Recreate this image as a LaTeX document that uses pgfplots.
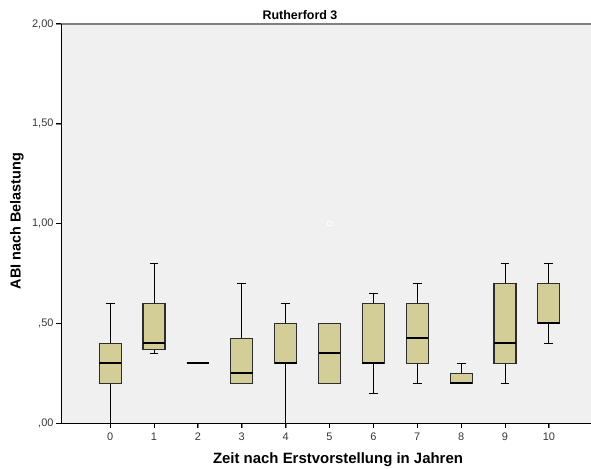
\documentclass[border=0pt]{standalone}
\usepackage{pgfplots}
\pgfplotsset{compat=1.18}
\usepgfplotslibrary{statistics}
\usepackage{fontspec}
\setmainfont{Liberation Sans}
\definecolor{bg}{RGB}{240,240,240}
\definecolor{boxfill}{RGB}{211,206,152}
\definecolor{boxedge}{RGB}{45,45,45}
\definecolor{ticktext}{RGB}{55,55,55}
\definecolor{topline}{RGB}{128,128,128}
\begin{document}
\begin{tikzpicture}
\begin{axis}[
  at={(0,0)}, anchor=south west,
  scale only axis, width=530bp, height=399bp,
  xmin=-1.12, xmax=10.96, ymin=0, ymax=2,
  axis line style={draw=none},
  axis background/.style={fill=bg},
  xtick={0,1,2,3,4,5,6,7,8,9,10},
  xticklabels={0,1,2,3,4,5,6,7,8,9,10},
  ytick={0,0.5,1,1.5,2},
  yticklabels={{,00},{,50},{1,00},{1,50},{2,00}},
  tick pos=left, tick align=outside,
  major tick length=5bp,
  ticklabel style={font=\fontsize{11}{13}\selectfont, text=ticktext},
  xticklabel style={yshift=-1bp},
  yticklabel style={xshift=1bp},
  boxplot/draw direction=y,
  boxplot/box extend=0.5,
  boxplot/whisker extend=0.2,
  boxplot/every box/.style={fill=boxfill, draw=boxedge, line width=1.1bp},
  boxplot/every whisker/.style={black, line width=0.8bp},
  boxplot/every median/.style={black, line width=2.4bp},
  clip=false,
]
\draw[topline, line width=1.2bp] (rel axis cs:0,1) -- (rel axis cs:1,1);
\draw[black, line width=0.9bp] (rel axis cs:0,1) -- (rel axis cs:0,0) -- (rel axis cs:1,0);
\pgfplotsinvokeforeach{0,1,2,3,4,5,6,7,8,9,10}{
  \draw[black, line width=1bp] (axis cs:#1,0) -- ([yshift=-5bp]axis cs:#1,0);
}
\pgfplotsinvokeforeach{0,0.5,1,1.5,2}{
  \draw[black, line width=1bp] (axis cs:-1.12,#1) -- ([xshift=-5bp]axis cs:-1.12,#1);
}
\addplot[boxplot prepared={draw position=0, lower whisker=0.00, lower quartile=0.20, median=0.30, upper quartile=0.40, upper whisker=0.60}] coordinates {};
\addplot[boxplot prepared={draw position=1, lower whisker=0.35, lower quartile=0.37, median=0.40, upper quartile=0.60, upper whisker=0.80}] coordinates {};
\addplot[boxplot prepared={draw position=2, lower whisker=0.30, lower quartile=0.30, median=0.30, upper quartile=0.30, upper whisker=0.30}] coordinates {};
\addplot[boxplot prepared={draw position=3, lower whisker=0.20, lower quartile=0.20, median=0.25, upper quartile=0.425, upper whisker=0.70}] coordinates {};
\addplot[boxplot prepared={draw position=4, lower whisker=0.00, lower quartile=0.30, median=0.30, upper quartile=0.50, upper whisker=0.60}] coordinates {};
\addplot[boxplot prepared={draw position=5, lower whisker=0.20, lower quartile=0.20, median=0.35, upper quartile=0.50, upper whisker=0.50}] coordinates {};
\addplot[boxplot prepared={draw position=6, lower whisker=0.15, lower quartile=0.30, median=0.30, upper quartile=0.60, upper whisker=0.65}] coordinates {};
\addplot[boxplot prepared={draw position=7, lower whisker=0.20, lower quartile=0.30, median=0.425, upper quartile=0.60, upper whisker=0.70}] coordinates {};
\addplot[boxplot prepared={draw position=8, lower whisker=0.20, lower quartile=0.20, median=0.20, upper quartile=0.25, upper whisker=0.30}] coordinates {};
\addplot[boxplot prepared={draw position=9, lower whisker=0.20, lower quartile=0.30, median=0.40, upper quartile=0.70, upper whisker=0.80}] coordinates {};
\addplot[boxplot prepared={draw position=10, lower whisker=0.40, lower quartile=0.50, median=0.50, upper quartile=0.70, upper whisker=0.80}] coordinates {};
\addplot[only marks, mark=o, mark size=2.5bp, draw=white, line width=0.8bp] coordinates {(5,1.0)};
\end{axis}
\node[font=\fontsize{12.5}{14}\selectfont\bfseries] at (239bp,408bp) {Rutherford 3};
\node[font=\fontsize{15}{17}\selectfont\bfseries] at (277bp,-37bp) {Zeit nach Erstvorstellung in Jahren};
\node[font=\fontsize{14.5}{17}\selectfont\bfseries, rotate=90] at (-44bp,202bp) {ABI nach Belastung};
\pgfresetboundingbox
\path[use as bounding box] (-61bp,-46bp) rectangle (530bp,423bp);
\end{tikzpicture}
\end{document}
